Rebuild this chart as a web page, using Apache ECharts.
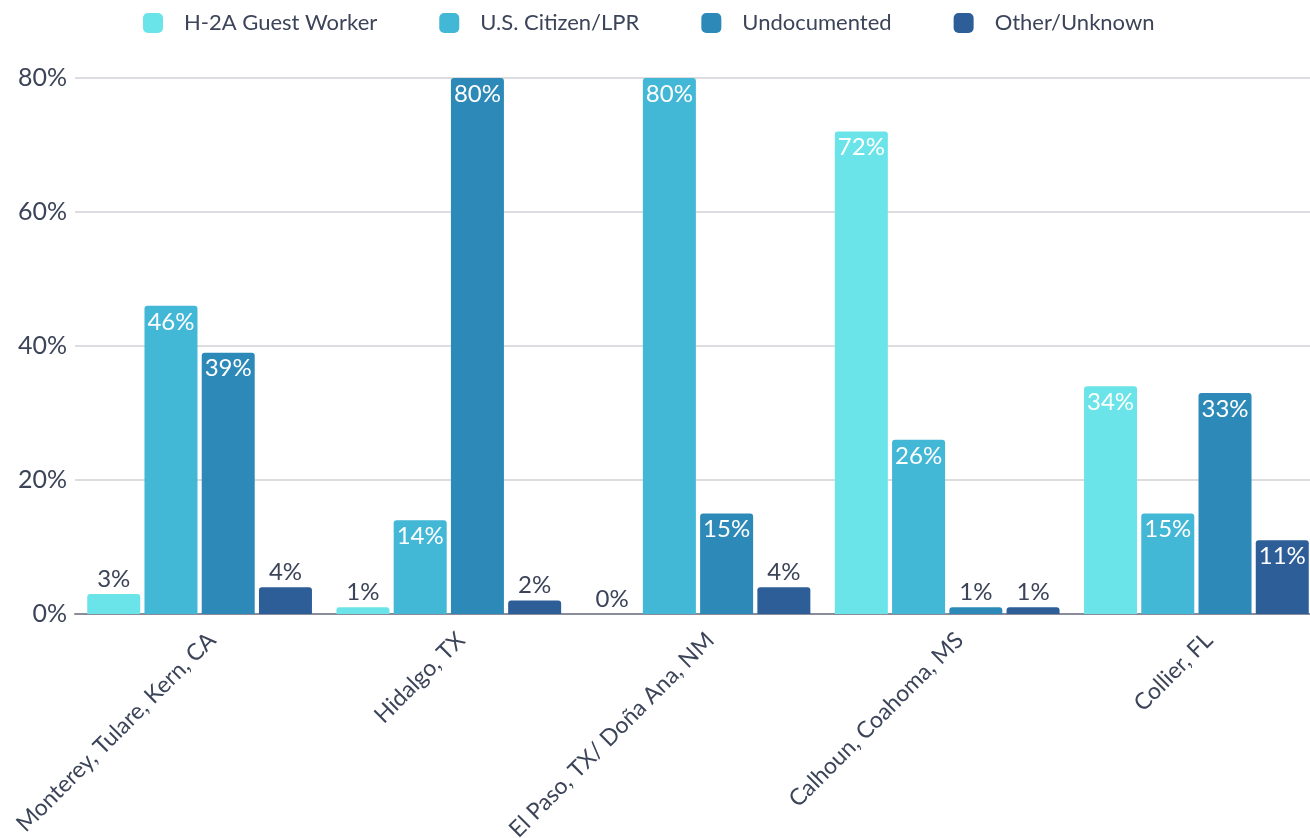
<!DOCTYPE html>
<html>
<head>
<meta charset="utf-8">
<script src="https://cdn.jsdelivr.net/npm/echarts@6/dist/echarts.min.js"></script>
<style>
  html, body { margin: 0; padding: 0; background: #fff; overflow: hidden; }
  #chart { width: 1321px; height: 838px; }
</style>
</head>
<body>
<div id="chart"></div>
<script>
const regions = ['Monterey, Tulare, Kern, CA', 'Hidalgo, TX', 'El Paso, TX/ Doña Ana, NM', 'Calhoun, Coahoma, MS', 'Collier, FL']
const seriesNames = ['H-2A Guest Worker', 'U.S. Citizen/LPR', 'Undocumented', 'Other/Unknown']
const guestWorker = [3, 1, 0, 72, 34]
const citizenLpr = [46, 14, 80, 26, 15]
const undocumented = [39, 80, 15, 1, 33]
const otherUnknown = [4, 2, 4, 1, 11]
const colors = ['#6ae4e8', '#42b7d6', '#2d8ab8', '#2e5e98']

const textColor = '#3c4459'
const fontFamily = 'Lato, "Noto Sans", sans-serif'

const chart = echarts.init(document.getElementById('chart'))

// big bars get a white label inside, small ones a dark label on top
const makeSeries = (name, values, color) => ({
  name,
  type: 'bar',
  barWidth: 53,
  barGap: '8%',
  itemStyle: { color, borderRadius: [3, 3, 0, 0] },
  data: values.map(v => ({
    value: v,
    label: v >= 10
      ? { position: 'insideTop', distance: 4, color: '#fff' }
      : { position: 'top', distance: 3, color: textColor }
  })),
  label: {
    show: true,
    formatter: '{c}%',
    fontSize: 24,
    fontFamily
  }
})

chart.setOption({
  animation: false,
  color: colors,
  legend: {
    top: 7,
    left: 138,
    itemWidth: 20,
    itemHeight: 20,
    itemGap: 62,
    icon: 'roundRect',
    textStyle: { fontSize: 22, color: textColor, fontFamily, padding: [0, 0, 0, 16] },
    data: seriesNames
  },
  grid: {
    left: 75,
    right: 0,
    top: 78,
    bottom: 224,
    outerBoundsMode: 'none',
    containLabel: false
  },
  xAxis: {
    type: 'category',
    data: regions,
    axisLine: { lineStyle: { color: '#8a8c99', width: 2 } },
    axisTick: { show: false },
    axisLabel: {
      rotate: 45,
      fontSize: 23,
      color: textColor,
      fontFamily,
      margin: 10,
      verticalAlign: 'top',
      padding: [6, 0, 0, 0],
      interval: 0
    }
  },
  yAxis: {
    type: 'value',
    min: 0,
    max: 80,
    interval: 20,
    axisLine: { show: false },
    axisTick: { show: false },
    splitLine: { lineStyle: { color: '#d0d1d7', width: 1.5 } },
    axisLabel: {
      formatter: '{value}%',
      fontSize: 25,
      color: textColor,
      fontFamily,
      margin: 8
    }
  },
  series: [
    makeSeries(seriesNames[0], guestWorker, colors[0]),
    makeSeries(seriesNames[1], citizenLpr, colors[1]),
    makeSeries(seriesNames[2], undocumented, colors[2]),
    makeSeries(seriesNames[3], otherUnknown, colors[3])
  ]
})
</script>
</body>
</html>
